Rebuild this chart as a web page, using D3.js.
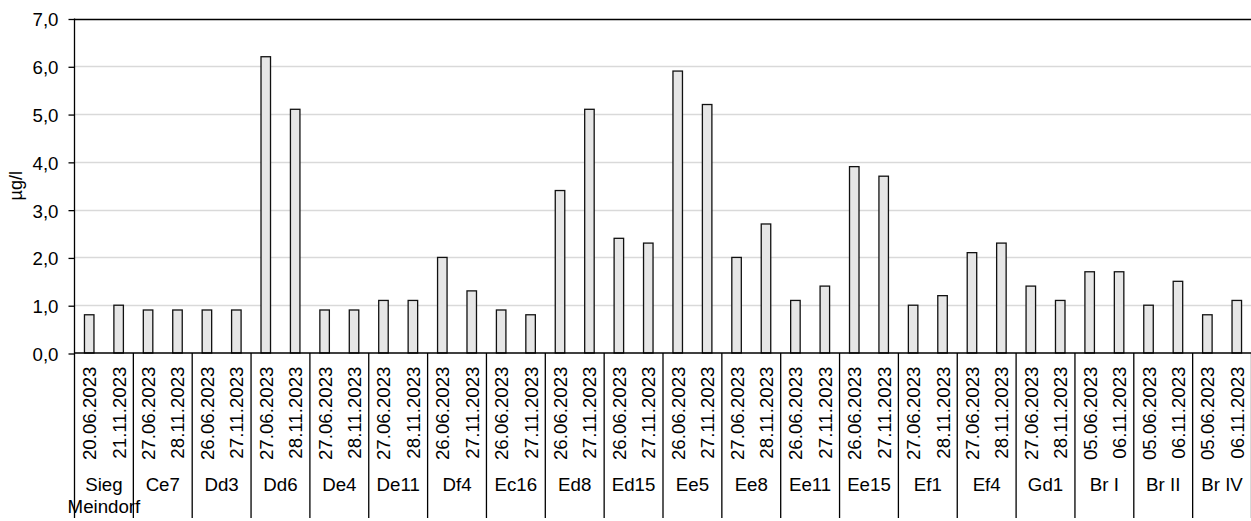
<!DOCTYPE html>
<html>
<head>
<meta charset="utf-8">
<script src="https://cdn.jsdelivr.net/npm/d3@7"></script>
<style>
  html, body { margin: 0; padding: 0; background: #fff; }
  svg { display: block; font-family: Arial, "Liberation Sans", sans-serif; }
</style>
</head>
<body>
<svg id="chart" width="1251" height="521"></svg>
<script>
// Sampling sites (label lines) and their two sampling dates
const sites = [
  ["Sieg", "Meindorf"], ["Ce7"], ["Dd3"], ["Dd6"], ["De4"], ["De11"], ["Df4"],
  ["Ec16"], ["Ed8"], ["Ed15"], ["Ee5"], ["Ee8"], ["Ee11"], ["Ee15"], ["Ef1"],
  ["Ef4"], ["Gd1"], ["Br I"], ["Br II"], ["Br IV"]
];
const firstDates = [
  "20.06.2023", "27.06.2023", "26.06.2023", "27.06.2023", "27.06.2023", "27.06.2023",
  "26.06.2023", "26.06.2023", "26.06.2023", "26.06.2023", "26.06.2023", "27.06.2023",
  "26.06.2023", "26.06.2023", "27.06.2023", "27.06.2023", "27.06.2023", "05.06.2023",
  "05.06.2023", "05.06.2023"
];
const secondDates = [
  "21.11.2023", "28.11.2023", "27.11.2023", "28.11.2023", "28.11.2023", "28.11.2023",
  "27.11.2023", "27.11.2023", "27.11.2023", "27.11.2023", "27.11.2023", "28.11.2023",
  "27.11.2023", "27.11.2023", "28.11.2023", "28.11.2023", "28.11.2023", "06.11.2023",
  "06.11.2023", "06.11.2023"
];
// Concentrations in µg/l
const firstValues  = [0.8, 0.9, 0.9, 6.2, 0.9, 1.1, 2.0, 0.9, 3.4, 2.4, 5.9, 2.0, 1.1, 3.9, 1.0, 2.1, 1.4, 1.7, 1.0, 0.8];
const secondValues = [1.0, 0.9, 0.9, 5.1, 0.9, 1.1, 1.3, 0.8, 5.1, 2.3, 5.2, 2.7, 1.4, 3.7, 1.2, 2.3, 1.1, 1.7, 1.5, 1.1];
const yTicks = [0, 1, 2, 3, 4, 5, 6, 7];
const yLabel = "µg/l";

const svg = d3.select("#chart");
const plotLeft = 74.5, plotRight = 1251.5, plotTop = 18.5, plotBottom = 353;
const fontSize = 18.7;

const bars = [];
sites.forEach((s, i) => {
  bars.push({ site: i, slot: 0, date: firstDates[i], value: firstValues[i] });
  bars.push({ site: i, slot: 1, date: secondDates[i], value: secondValues[i] });
});

const x0 = d3.scaleBand().domain(d3.range(sites.length)).range([plotLeft, plotRight]).padding(0);
const x1 = d3.scaleBand().domain([0, 1]).range([0, x0.bandwidth()]).paddingInner(0.677).paddingOuter(0.3385);
const y = d3.scaleLinear().domain([0, 7]).range([plotBottom, plotTop]);
const fmt = v => d3.format(".1f")(v).replace(".", ",");

// Horizontal gridlines
svg.append("g").selectAll("line")
  .data(yTicks.filter(t => t > 0 && t < 7))
  .join("line")
  .attr("x1", plotLeft).attr("x2", plotRight)
  .attr("y1", d => Math.round(y(d)) + 0.5).attr("y2", d => Math.round(y(d)) + 0.5)
  .attr("stroke", "#d9d9d9").attr("stroke-width", 1.3);

// Top frame line
svg.append("line")
  .attr("x1", plotLeft).attr("x2", plotRight)
  .attr("y1", Math.round(y(7)) + 0.5).attr("y2", Math.round(y(7)) + 0.5)
  .attr("stroke", "#000").attr("stroke-width", 1.3);

// Y axis
const yAxis = svg.append("g")
  .attr("transform", `translate(${plotLeft},0)`)
  .call(d3.axisLeft(y).tickValues(yTicks).tickFormat(fmt).tickSize(6).tickSizeOuter(0));
yAxis.select(".domain").remove();
yAxis.selectAll(".tick line").attr("stroke", "#000").attr("stroke-width", 1.3)
  .attr("transform", "translate(0,0.5)");
yAxis.selectAll(".tick text")
  .attr("x", -16).attr("dy", "0.4em")
  .attr("font-size", fontSize).attr("font-family", "Arial, 'Liberation Sans', sans-serif")
  .attr("fill", "#000");

// Bars
svg.append("g").selectAll("rect")
  .data(bars)
  .join("rect")
  .attr("x", d => x0(d.site) + x1(d.slot))
  .attr("width", x1.bandwidth())
  .attr("y", d => y(d.value))
  .attr("height", d => y(0) - y(d.value))
  .attr("fill", "#e6e6e6")
  .attr("stroke", "#111")
  .attr("stroke-width", 1.3);

// Left axis line and group separators extending below the plot
const seps = d3.range(sites.length + 1).map(i => i === sites.length ? plotRight : x0(i));
svg.append("line")
  .attr("x1", plotLeft).attr("x2", plotLeft).attr("y1", plotTop).attr("y2", plotBottom)
  .attr("stroke", "#000").attr("stroke-width", 1.3);
svg.append("g").selectAll("line")
  .data(seps)
  .join("line")
  .attr("x1", d => d).attr("x2", d => d)
  .attr("y1", plotBottom).attr("y2", 518)
  .attr("stroke", "#000").attr("stroke-width", 1.3);

// Baseline
svg.append("line")
  .attr("x1", plotLeft).attr("x2", plotRight).attr("y1", plotBottom).attr("y2", plotBottom)
  .attr("stroke", "#000").attr("stroke-width", 1.5);

// Date labels (vertical)
svg.append("g").selectAll("text")
  .data(bars)
  .join("text")
  .attr("transform", d => `translate(${x0(d.site) + x1(d.slot) + x1.bandwidth() / 2 + 7},366.5) rotate(-90)`)
  .attr("text-anchor", "end")
  .attr("font-size", fontSize)
  .attr("fill", "#000")
  .text(d => d.date);

// Site labels
const siteG = svg.append("g").selectAll("text")
  .data(sites)
  .join("text")
  .attr("text-anchor", "middle")
  .attr("font-size", fontSize)
  .attr("fill", "#000");
siteG.selectAll("tspan")
  .data((d, i) => d.map((line, j) => ({ line, j, i })))
  .join("tspan")
  .attr("x", d => x0(d.i) + x0.bandwidth() / 2)
  .attr("y", d => 491 + d.j * 21.5)
  .text(d => d.line);

// Y axis title
svg.append("text")
  .attr("transform", `translate(22,${(plotTop + plotBottom) / 2}) rotate(-90)`)
  .attr("text-anchor", "middle")
  .attr("font-size", 18)
  .attr("fill", "#000")
  .text(yLabel);
</script>
</body>
</html>
